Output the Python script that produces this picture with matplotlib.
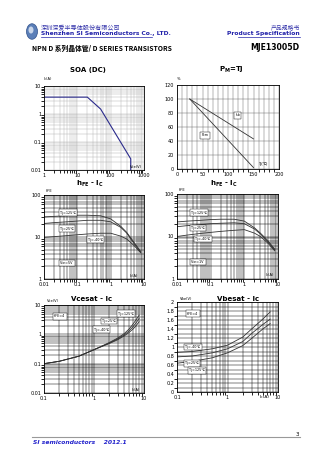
import numpy as np
import matplotlib
matplotlib.use("Agg")
import matplotlib.pyplot as plt
from matplotlib.ticker import FixedLocator, LogLocator, NullFormatter
from matplotlib.patches import Circle

W, H = 336, 474
plt.rcParams['font.family'] = ['DejaVu Sans']
CJK = ['Noto Sans CJK SC', 'DejaVu Sans']

# SOA (DC)
soa_v = [1, 20, 50, 400, 400]
soa_i = [4, 4, 1.5, 0.025, 0.01]

# Pd - Tj derating (%)
isb_t = [25, 150]
isb_p = [100, 43]
pc_t = [25, 150]
pc_p = [100, 2]

# hFE - Ic
hfe_ic = [0.01, 0.02, 0.05, 0.1, 0.2, 0.5, 1, 2, 3, 5, 8]
hfe_a_125 = [30, 31, 32, 33, 33, 32, 27, 18, 13, 7.5, 4.5]
hfe_a_25 = [21, 22, 23, 24, 25, 25, 23, 17, 12.5, 7, 4.3]
hfe_a_m40 = [9.8, 10.2, 10.8, 11.3, 11.8, 12.3, 12.3, 10.5, 9, 6.3, 4.2]
hfe_b_125 = [22, 23, 24, 25, 25.5, 25.5, 23, 16, 12, 8, 5]
hfe_b_25 = [17, 18, 19, 20, 20.5, 21, 20, 15, 11.5, 7.5, 4.8]
hfe_b_m40 = [10, 10.8, 11.8, 12.5, 13.2, 14, 14.5, 12, 10, 7, 4.6]

# Vcesat - Ic
vce_ic = [0.1, 0.2, 0.5, 1, 2, 3, 4, 5, 6, 7, 8]
vce_125 = [0.1, 0.12, 0.18, 0.3, 0.52, 0.75, 1.05, 1.5, 2.2, 3.2, 4.5]
vce_25 = [0.1, 0.12, 0.18, 0.3, 0.5, 0.7, 0.95, 1.3, 1.8, 2.5, 3.5]
vce_m40 = [0.1, 0.12, 0.18, 0.3, 0.48, 0.66, 0.88, 1.15, 1.5, 2.0, 2.7]

# Vbesat - Ic
vbe_ic = [0.1, 0.2, 0.5, 1, 2, 3, 5, 7]
vbe_m40 = [0.88, 0.9, 0.96, 1.04, 1.22, 1.4, 1.62, 1.78]
vbe_25 = [0.78, 0.8, 0.87, 0.96, 1.12, 1.3, 1.5, 1.62]
vbe_125 = [0.64, 0.68, 0.76, 0.87, 1.03, 1.19, 1.4, 1.52]

fig = plt.figure(figsize=(W / 100, H / 100), dpi=100)
fig.patch.set_facecolor('white')


def fx(x):
    return x / W


def fy(y):
    return 1 - y / H


def txt(x, y, s, **kw):
    kw.setdefault('va', 'center')
    return fig.text(fx(x), fy(y), s, **kw)


def ax_at(x0, x1, y0, y1):
    ax = fig.add_axes([fx(x0), fy(y1), (x1 - x0) / W, (y1 - y0) / H])
    ax.tick_params(length=0, labelsize=3.5, pad=2)
    for s in ax.spines.values():
        s.set_linewidth(0.6)
    return ax


def log_grid(ax, axis, color, lw):
    getattr(ax, axis + 'axis').set_major_locator(LogLocator(base=10))
    getattr(ax, axis + 'axis').set_minor_locator(LogLocator(base=10, subs=np.arange(2, 10)))
    getattr(ax, axis + 'axis').set_minor_formatter(NullFormatter())
    ax.grid(True, which='both', axis=axis, color=color, lw=lw)


def box(ax, x, y, s):
    ax.text(x, y, s, transform=ax.transAxes, fontsize=2.4, va='center', ha='left',
            bbox=dict(boxstyle='square,pad=0.4', fc='white', ec='black', lw=0.3), zorder=5)


def small(ax, x, y, s, **kw):
    ax.text(x, y, s, transform=ax.transAxes, fontsize=2.6, va='center', zorder=5, **kw)


# header
fig.patches.append(Circle((fx(32), fy(31.5)), 5.5 / W, transform=fig.transFigure,
                          fc='#5b7fb8', ec='#2d4f8a', lw=0.5))
fig.patches.append(Circle((fx(31), fy(30)), 2.5 / W, transform=fig.transFigure,
                          fc='#c9d6ea', ec='none'))
txt(41, 27, '深圳深爱半导体股份有限公司', fontsize=4.4, color='#3333aa', family=CJK)
txt(41, 33.5, 'Shenzhen SI Semiconductors Co., LTD.', fontsize=4.3, color='#2222aa', weight='bold')
fig.add_artist(plt.Line2D([fx(41), fx(152)], [fy(36.5), fy(36.5)], color='#2222aa', lw=0.5))
txt(300, 27, '产品规格书', fontsize=4.2, color='#3333aa', family=CJK, ha='right')
txt(300, 33.5, 'Product Specification', fontsize=4.3, color='#2222aa', weight='bold', ha='right')
fig.add_artist(plt.Line2D([fx(238), fx(300)], [fy(36.5), fy(36.5)], color='#2222aa', lw=0.5))
txt(32, 48, 'NPN D 系列晶体管/ D SERIES TRANSISTORS', fontsize=4.9, weight='bold', family=CJK)
txt(299, 48, 'MJE13005D', fontsize=5.6, weight='bold', ha='right')

# chart titles
txt(88, 70, 'SOA (DC)', fontsize=5, weight='bold', ha='center')
txt(231, 70, r'$\mathbf{P_{M}}$=Tj', fontsize=5, weight='bold', ha='center')
txt(90, 184, r'$\mathbf{h_{FE}}$ - $\mathbf{I_C}$', fontsize=5, weight='bold', ha='center')
txt(224, 184, r'$\mathbf{h_{FE}}$ - $\mathbf{I_C}$', fontsize=5, weight='bold', ha='center')
txt(92, 299, 'Vcesat - Ic', fontsize=5, weight='bold', ha='center')
txt(238, 299, 'Vbesat - Ic', fontsize=5, weight='bold', ha='center')

# 1) SOA
ax1 = ax_at(44, 144, 86, 170)
ax1.set_xscale('log')
ax1.set_yscale('log')
ax1.set_xlim(1, 1000)
ax1.set_ylim(0.01, 10)
log_grid(ax1, 'x', '#aaaaaa', 0.3)
log_grid(ax1, 'y', '#aaaaaa', 0.3)
ax1.set_xticks([1, 10, 100, 1000])
ax1.set_xticklabels(['1', '10', '100', '1000'])
ax1.set_yticks([0.01, 0.1, 1, 10])
ax1.set_yticklabels(['0.01', '0.1', '1', '10'])
ax1.plot(soa_v, soa_i, color='#2b2b8c', lw=0.8)
small(ax1, 0.0, 1.08, 'Ic(A)')
small(ax1, 0.86, 0.04, 'Vce(V)')

# 2) Pd - Tj
ax2 = ax_at(177, 279, 85, 169)
ax2.set_xlim(0, 200)
ax2.set_ylim(0, 120)
ax2.xaxis.set_minor_locator(FixedLocator(np.arange(0, 201, 10)))
ax2.set_xticks([0, 50, 100, 150, 200])
ax2.set_yticks([0, 20, 40, 60, 80, 100, 120])
ax2.grid(True, which='both', axis='x', color='#555555', lw=0.3)
ax2.grid(True, which='major', axis='y', color='#555555', lw=0.3)
ax2.plot(isb_t, isb_p, color='#333333', lw=0.6)
ax2.plot(pc_t, pc_p, color='#333333', lw=0.6)
box(ax2, 0.57, 0.64, 'Isb')
box(ax2, 0.24, 0.4, 'Pcm')
small(ax2, 0.0, 1.07, '%')
small(ax2, 0.8, 0.06, 'Tj(℃)', family=CJK)

# 3) hFE - Ic (left)
ax3 = ax_at(44, 144, 195, 279)
ax3.set_xscale('log')
ax3.set_yscale('log')
ax3.set_xlim(0.01, 10)
ax3.set_ylim(1, 100)
log_grid(ax3, 'x', 'black', 0.35)
log_grid(ax3, 'y', 'black', 0.35)
ax3.set_xticks([0.01, 0.1, 1, 10])
ax3.set_xticklabels(['0.01', '0.1', '1', '10'])
ax3.set_yticks([1, 10, 100])
ax3.set_yticklabels(['1', '10', '100'])
ax3.plot(hfe_ic, hfe_a_125, color='#333333', lw=0.6)
ax3.plot(hfe_ic, hfe_a_25, color='#333333', lw=0.6)
ax3.plot(hfe_ic, hfe_a_m40, color='#333333', lw=0.6)
box(ax3, 0.16, 0.79, 'Tj=125℃')
box(ax3, 0.16, 0.6, 'Tj=25℃')
box(ax3, 0.44, 0.47, 'Tj=-40℃')
box(ax3, 0.16, 0.19, 'Vce=5V')
small(ax3, 0.02, 1.05, 'hFE')
small(ax3, 0.86, 0.03, 'Ic(A)')

# 4) hFE - Ic (right)
ax4 = ax_at(177, 278, 194, 279)
ax4.set_xscale('log')
ax4.set_yscale('log')
ax4.set_xlim(0.01, 10)
ax4.set_ylim(1, 100)
log_grid(ax4, 'x', 'black', 0.35)
log_grid(ax4, 'y', 'black', 0.35)
ax4.set_xticks([0.01, 0.1, 1, 10])
ax4.set_xticklabels(['0.01', '0.1', '1', '10'])
ax4.set_yticks([1, 10, 100])
ax4.set_yticklabels(['1', '10', '100'])
ax4.plot(hfe_ic, hfe_b_125, color='#333333', lw=0.6)
ax4.plot(hfe_ic, hfe_b_25, color='#333333', lw=0.6)
ax4.plot(hfe_ic, hfe_b_m40, color='#333333', lw=0.6)
box(ax4, 0.14, 0.78, 'Tj=125℃')
box(ax4, 0.14, 0.6, 'Tj=25℃')
box(ax4, 0.18, 0.47, 'Tj=-40℃')
box(ax4, 0.14, 0.2, 'Vce=1V')
small(ax4, 0.02, 1.05, 'hFE')
small(ax4, 0.88, 0.05, 'Ic(A)')

# 5) Vcesat - Ic
ax5 = ax_at(44, 144, 305, 393)
ax5.set_xscale('log')
ax5.set_yscale('log')
ax5.set_xlim(0.1, 10)
ax5.set_ylim(0.01, 10)
log_grid(ax5, 'x', 'black', 0.35)
log_grid(ax5, 'y', 'black', 0.35)
ax5.set_xticks([0.1, 1, 10])
ax5.set_xticklabels(['0.1', '1', '10'])
ax5.set_yticks([0.01, 0.1, 1, 10])
ax5.set_yticklabels(['0.01', '0.1', '1', '10'])
ax5.plot(vce_ic, vce_125, color='#333333', lw=0.6)
ax5.plot(vce_ic, vce_25, color='#333333', lw=0.6)
ax5.plot(vce_ic, vce_m40, color='#333333', lw=0.6)
box(ax5, 0.74, 0.9, 'Tj=125℃')
box(ax5, 0.58, 0.82, 'Tj=25℃')
box(ax5, 0.5, 0.72, 'Tj=-40℃')
box(ax5, 0.1, 0.87, 'hFE=4')
small(ax5, 0.03, 1.04, 'Vce(V)')
small(ax5, 0.88, 0.03, 'Ic(A)')

# 6) Vbesat - Ic
ax6 = ax_at(177, 278, 302, 392)
ax6.set_xscale('log')
ax6.set_xlim(0.1, 10)
ax6.set_ylim(0, 2)
log_grid(ax6, 'x', 'black', 0.35)
ax6.yaxis.set_minor_locator(FixedLocator(np.arange(0, 2.01, 0.1)))
ax6.set_yticks(np.arange(0, 2.01, 0.2))
ax6.set_yticklabels(['0', '0.2', '0.4', '0.6', '0.8', '1', '1.2', '1.4', '1.6', '1.8', '2'])
ax6.grid(True, which='both', axis='y', color='black', lw=0.35)
ax6.set_xticks([0.1, 1, 10])
ax6.set_xticklabels(['0.1', '1', '10'])
ax6.plot(vbe_ic, vbe_m40, color='#333333', lw=0.6)
ax6.plot(vbe_ic, vbe_25, color='#333333', lw=0.6)
ax6.plot(vbe_ic, vbe_125, color='#333333', lw=0.6)
box(ax6, 0.08, 0.5, 'Tj=-40℃')
box(ax6, 0.08, 0.32, 'Tj=25℃')
box(ax6, 0.12, 0.24, 'Tj=125℃')
box(ax6, 0.1, 0.87, 'hFE=4')
small(ax6, 0.03, 1.03, 'Vbe(V)')
txt(265, 397, 'Ic(A)', fontsize=3.2, ha='center')

# footer
fig.add_artist(plt.Line2D([fx(32), fx(300)], [fy(437), fy(437)], color='#999999', lw=0.8))
txt(296, 434, '3', fontsize=4)
txt(33, 443, 'SI semiconductors    2012.1', fontsize=4.3, color='#2222cc',
    weight='bold', style='italic')

fig.savefig('out.png', dpi=100, facecolor='white')
